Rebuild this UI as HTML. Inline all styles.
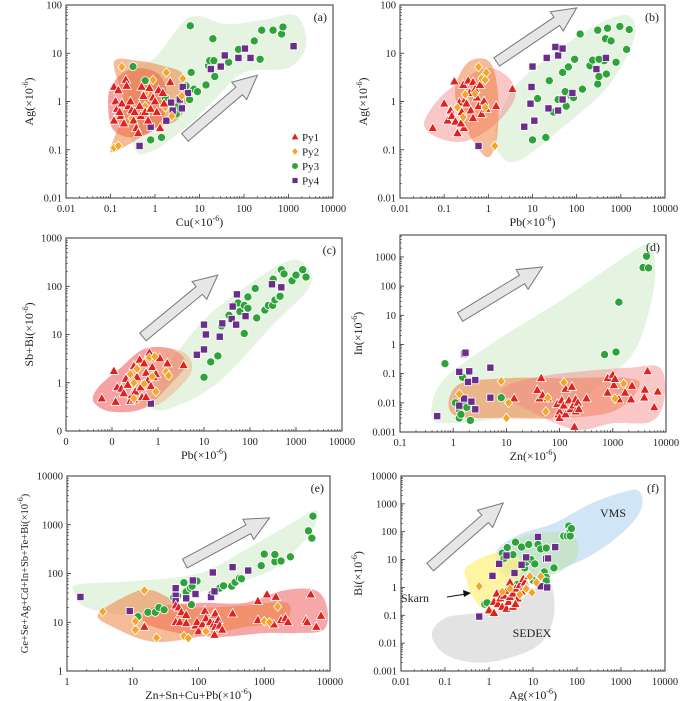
<!DOCTYPE html>
<html><head><meta charset="utf-8">
<style>
html,body{margin:0;padding:0;background:#fff;}
svg{display:block;}
svg text{font-family:"Liberation Serif","Times New Roman",serif;}
</style></head>
<body>
<svg id="chart" width="700" height="701" viewBox="0 0 700 701"></svg>
<script>
// ---------- Panel (a) Cu vs Ag ----------
const aPy1=[[0.12,2],[0.13,1],[0.12,0.4],[0.15,1.7],[0.14,0.7],[0.17,0.5],[0.18,0.9],[0.2,0.35],[0.22,2.8],[0.23,2.1],[0.25,0.8],[0.28,1],[0.3,0.65],[0.33,0.4],[0.38,0.28],[0.42,0.22],[0.45,0.8],[0.48,0.5],[0.5,2],[0.55,1.3],[0.6,0.6],[0.7,0.4],[0.75,1.9],[0.8,0.7],[0.9,1.2],[1,1],[1.1,0.6],[1.2,1.7],[1.3,0.28],[1.5,1.5],[1.6,0.9],[2.2,2.5],[0.35,0.6],[0.16,0.6]];
const aPy2=[[0.12,0.11],[0.15,0.12],[0.18,5.2],[0.3,0.45],[0.6,1.5],[0.6,0.8],[0.9,2.8],[1.8,4],[1.7,0.75],[2.4,0.5],[4.2,3],[4,1.3]];
const aPy3=[[0.32,5.3],[0.6,2.7],[0.8,0.16],[1.4,0.18],[1.7,1.2],[3,0.55],[3.3,0.8],[5,2.1],[6.2,37],[6,1.1],[6.5,4],[7.5,1.8],[9,1.6],[14,2.2],[16,5.5],[17,7],[20,20],[21,7],[22,3.3],[45,6.5],[75,12],[170,18],[230,7.5],[250,30],[450,30],[700,25],[750,35]];
const aPy4=[[0.45,0.12],[0.8,0.3],[2.3,0.95],[2.5,0.65],[1.8,0.4],[3.6,1.1],[4,0.72],[4.2,2],[5.5,1.5],[18,4.7],[30,5.3],[37,9],[75,8],[105,12.5],[140,8],[1300,14]];
// ---------- Panel (b) Pb vs Ag ----------
const bPy1=[[0.055,0.28],[0.1,0.9],[0.12,0.4],[0.14,0.65],[0.15,0.5],[0.17,2.6],[0.18,0.38],[0.2,0.22],[0.22,0.95],[0.25,0.6],[0.27,2.2],[0.28,0.28],[0.3,1.1],[0.32,0.9],[0.35,2.7],[0.38,1.5],[0.4,0.65],[0.45,2.5],[0.5,1.8],[0.55,1.2],[0.6,0.8],[0.65,2.2],[0.7,0.55],[0.8,1],[0.9,0.7],[1.5,0.8],[3.5,1.8],[0.24,0.35],[0.45,0.45]];
const bPy2=[[0.2,0.75],[0.27,0.47],[0.3,1.4],[0.5,1.45],[0.6,5.2],[0.7,3],[0.85,2.8],[0.9,4],[0.85,0.75],[1.4,0.12]];
const bPy3=[[10,0.16],[20,0.18],[13,1.15],[24,2.7],[30,0.6],[38,1.1],[48,4],[55,1.6],[58,0.8],[65,5.2],[75,1.3],[85,1.2],[90,7.5],[120,25],[135,1.8],[200,5.5],[230,7.2],[300,2.3],[300,30],[320,3.3],[420,7],[450,20],[470,3.7],[500,33],[600,18],[780,6.5],[950,36],[1350,12],[1550,31],[320,7.5]];
const bPy4=[[0.6,0.12],[6.5,0.3],[9,0.9],[9.5,2],[10,5.3],[11,0.4],[21,8],[23,0.72],[33,13.5],[38,9],[38,0.65],[48,12.5],[48,1.1],[80,1.5],[280,4.7],[460,8]];
// ---------- Panel (c) Pb vs Sb+Bi ----------
const cPy1=[[0.06,0.47],[0.11,1.75],[0.12,0.4],[0.13,0.8],[0.16,0.75],[0.18,0.6],[0.2,1.2],[0.22,0.9],[0.25,0.42],[0.27,0.55],[0.3,2.2],[0.32,0.65],[0.35,1.3],[0.4,3],[0.42,0.8],[0.45,0.5],[0.5,2.5],[0.55,1.6],[0.6,1.1],[0.65,4.2],[0.7,0.85],[0.75,2.1],[0.8,1.3],[0.9,1.5],[1.1,3.2],[1.6,2.5],[3.6,2.3],[0.3,0.45],[0.55,0.5]];
const cPy2=[[0.25,1.5],[0.3,1],[0.3,0.47],[0.35,1.95],[0.5,0.95],[0.65,3.3],[0.75,1.35],[0.85,3.5],[0.9,0.65],[1.5,1.7],[1.7,1.4]];
const cPy3=[[10,1.3],[14,2.7],[20,3.6],[24,15],[35,25],[45,40],[55,45],[60,30],[75,10.5],[75,40],[90,60],[90,35],[130,90],[140,22],[210,32],[250,40],[310,40],[320,140],[350,52],[430,60],[480,220],[550,180],[820,130],[1000,170],[1400,220],[1650,155],[450,62]];
const cPy4=[[0.7,0.37],[7,3.8],[10,4.9],[10,16],[11,10],[22,9],[25,17],[40,21],[42,38],[50,16],[52,68],[80,24],[300,110],[480,95]];
// ---------- Panel (d) Zn vs In ----------
const dPy1=[[14,0.014],[38,0.027],[42,0.014],[45,0.07],[48,0.018],[60,0.014],[90,0.009],[95,0.004],[100,0.005],[100,0.003],[110,0.012],[120,0.008],[130,0.004],[130,0.03],[150,0.012],[160,0.006],[170,0.035],[180,0.008],[190,0.0015],[200,0.013],[200,0.005],[220,0.01],[230,0.006],[320,0.014],[800,0.07],[800,0.022],[1000,0.09],[1050,0.04],[1100,0.065],[1300,0.013],[1700,0.022],[2200,0.013],[2300,0.038],[3900,0.015],[4000,0.028],[4500,0.12],[6000,0.007],[7000,0.024]];
const dPy2=[[1.3,0.02],[8,0.055],[10,0.003],[11,0.01],[60,0.015],[55,0.005],[120,0.05],[1100,0.014],[1600,0.045]];
const dPy3=[[0.7,0.22],[1.1,0.01],[1.3,0.006],[1.3,0.003],[1.4,0.004],[1.5,0.075],[1.6,0.009],[1.8,0.007],[2.1,0.0025],[8,0.015],[700,0.45],[1150,0.55],[1300,28],[3700,430],[4300,1050],[4700,420]];
const dPy4=[[0.5,0.0035],[1.3,0.115],[1.3,0.008],[1.6,0.47],[1.7,0.52],[1.6,0.014],[1.9,0.052],[2,0.12],[2.2,0.011],[2.6,0.06],[2.6,0.006],[5,0.16],[5,0.015]];
// ---------- Panel (e) Zn+Sn+Cu+Pb vs sum ----------
const ePy1=[[15,8],[45,10],[45,22],[50,20],[52,10],[55,16],[65,9.5],[65,14],[90,8.5],[95,10],[100,6.5],[115,9],[125,17],[130,12],[130,7],[150,10],[170,14],[170,9],[175,5.5],[180,8],[180,15],[200,11],[210,8.5],[230,7],[330,15],[800,11],[800,27],[1100,37],[1400,9],[1500,33],[1800,11],[2100,12],[2300,10],[4300,11],[4500,10],[5100,37],[6200,8],[7300,13.5]];
const ePy2=[[3.5,16.5],[11,7],[11,10.5],[15,45],[23,4.8],[60,5.2],[70,4.7],[130,6.5],[1000,10.5],[1200,10],[1600,21]];
const ePy3=[[12,13],[17,16],[22,16],[25,20],[30,18],[42,32],[48,35],[60,65],[65,42],[75,50],[78,23],[80,55],[95,70],[160,38],[210,50],[240,56],[320,55],[360,66],[420,80],[450,78],[900,145],[1000,250],[1450,175],[1450,245],[1800,180],[2500,220],[4700,750],[5300,530],[5500,1500]];
const ePy4=[[1.6,33],[9,17],[45,50],[45,35],[45,27],[65,31],[82,72],[90,38],[155,33],[165,105],[175,43],[330,135],[570,115]];
// ---------- Panel (f) Ag vs Bi ----------
const fPy1=[[1,0.15],[1.3,0.12],[1.3,0.3],[1.5,0.6],[1.6,0.25],[1.8,0.4],[2,0.2],[2.2,0.5],[2.5,0.17],[2.5,0.75],[2.8,0.3],[3,1.5],[3,0.45],[3.5,0.2],[3.5,0.6],[4,0.9],[4.5,0.4],[5,1.2],[5.5,0.7],[6,2],[6.5,1.5],[7,1],[8,2.5],[4,0.25]];
const fPy2=[[0.6,1.1],[2,0.7],[3,0.9],[5,0.55],[7,0.9],[8.5,2.5],[9.5,0.65],[15,2.5],[12,1.5]];
const fPy3=[[0.8,0.25],[0.9,0.28],[2,17],[2.2,11],[2.6,27],[3.5,15],[4,42],[4.5,1.3],[4,0.35],[5.5,28],[6,0.7],[6.5,5],[7,8],[8,35],[9,10],[10,1.8],[11,7],[13,35],[15,24],[18,3.6],[20,26],[20,2.3],[20,1.7],[30,5],[50,70],[60,70],[65,160],[70,110],[70,70],[75,130]];
const fPy4=[[0.6,0.09],[1.2,2.6],[1.7,7],[2.5,14],[3.8,3.3],[5.5,6.5],[7,12],[13,65],[15,1.1],[20,10.5],[21,1],[22,11],[32,28]];

const xTicksA=["0.01","0.1","1","10","100","1000","10000"];
const yTicksA=["0.01","0.1","1","10","100"];
const xTicksC=["0","0","1","10","100","1000","10000"];
const yTicksC=["0","1","10","100","1000"];
const xTicksD=["0.1","1","10","100","1000","10000"];
const yTicksD=["0.001","0.01","0.1","1","10","100","1000"];
const xTicksE=["1","10","100","1000","10000"];
const yTicksE=["1","10","100","1000","10000"];
const yTicksF=["0.001","0.01","0.1","1","10","100","1000","10000"];

const NS="http://www.w3.org/2000/svg";
const svg=document.getElementById('chart');
function el(tag,attrs,parent){const e=document.createElementNS(NS,tag);for(const k in attrs)e.setAttribute(k,attrs[k]);(parent||svg).appendChild(e);return e;}
const FF='"Liberation Serif","Times New Roman",serif';

function makePanel(p){
  const g=el('g',{});
  
  
  const sx=v=>p.x0+(Math.log10(v)-p.xmin)/(p.xmax-p.xmin)*(p.x1-p.x0);
  const sy=v=>p.y1-(Math.log10(v)-p.ymin)/(p.ymax-p.ymin)*(p.y1-p.y0);
  p.sx=sx;p.sy=sy;p.g=g;
  return p;
}
function smoothPath(pts){
  const n=pts.length;let d='M'+pts[0][0]+','+pts[0][1];
  for(let i=0;i<n;i++){
    const p0=pts[(i-1+n)%n],p1=pts[i],p2=pts[(i+1)%n],p3=pts[(i+2)%n];
    const c1=[p1[0]+(p2[0]-p0[0])/6,p1[1]+(p2[1]-p0[1])/6];
    const c2=[p2[0]-(p3[0]-p1[0])/6,p2[1]-(p3[1]-p1[1])/6];
    d+=' C'+c1[0].toFixed(1)+','+c1[1].toFixed(1)+' '+c2[0].toFixed(1)+','+c2[1].toFixed(1)+' '+p2[0].toFixed(1)+','+p2[1].toFixed(1);
  }
  return d+'Z';
}
function envelope(p,poly,fill,name){
  const pts=poly.map(q=>[p.sx(q[0]),p.sy(q[1])]);
  const e=el('path',{d:smoothPath(pts),fill:fill},p.g);
  
  
}
function arrow(p,t,h){
  const x1=p.sx(t[0]),y1=p.sy(t[1]),x2=p.sx(h[0]),y2=p.sy(h[1]);
  const L=Math.hypot(x2-x1,y2-y1),a=Math.atan2(y2-y1,x2-x1);
  const sw=5,hw=11.5,hl=24;
  const loc=[[0,-sw],[L-hl,-sw],[L-hl,-hw],[L,0],[L-hl,hw],[L-hl,sw],[0,sw]];
  const pts=loc.map(q=>[(x1+q[0]*Math.cos(a)-q[1]*Math.sin(a)).toFixed(1),(y1+q[0]*Math.sin(a)+q[1]*Math.cos(a)).toFixed(1)].join(',')).join(' ');
  const e=el('polygon',{points:pts,fill:'#e6e6e6',stroke:'#777','stroke-width':1},p.g);
  
  
}
const COL={Py1:'#e4201c',Py2:'#f5a623',Py3:'#2ea33a',Py4:'#6b2d8b'};
function marker(g,type,x,y,s){
  let e;
  if(type==='Py1')e=el('polygon',{points:`${x},${y-s*1.1} ${x+s},${y+s*0.7} ${x-s},${y+s*0.7}`,fill:COL.Py1,stroke:'#fff','stroke-width':0.8},g);
  else if(type==='Py2')e=el('polygon',{points:`${x},${y-s} ${x+s*0.85},${y} ${x},${y+s} ${x-s*0.85},${y}`,fill:COL.Py2,stroke:'#fff','stroke-width':0.8},g);
  else if(type==='Py3')e=el('circle',{cx:x,cy:y,r:s*0.85,fill:COL.Py3,stroke:'#fff','stroke-width':0.8},g);
  else e=el('rect',{x:x-s*0.75,y:y-s*0.75,width:s*1.5,height:s*1.5,fill:COL.Py4,stroke:'#fff','stroke-width':0.8},g);
  return e;
}
function series(p,data,type){
  const sg=el('g',{},p.g);
  
  
  data.forEach(d=>{
    const m=marker(sg,type,p.sx(d[0]),p.sy(d[1]),4.8);
    
    
  });
}
function axes(p,xl,yl,xlab,ylab,tag){
  const g=p.g;
  const fr=el('rect',{x:p.x0,y:p.y0,width:p.x1-p.x0,height:p.y1-p.y0,fill:'none',stroke:'#333','stroke-width':1},g);
  
  
  for(let k=p.xmin;k<=p.xmax;k++){
    const x=p.sx(Math.pow(10,k));
    el('line',{x1:x,y1:p.y1,x2:x,y2:p.y1-4,stroke:'#333','stroke-width':0.8},g);
    if(k<p.xmax)for(let m=2;m<10;m++){const xm=p.sx(m*Math.pow(10,k));el('line',{x1:xm,y1:p.y1,x2:xm,y2:p.y1-2,stroke:'#333','stroke-width':0.6},g);}
    const t=el('text',{x:x,y:p.y1+14,'text-anchor':'middle','font-size':10.5,fill:'#222','font-family':FF},g);
    t.textContent=xl[k-p.xmin];
    
    
  }
  for(let k=p.ymin;k<=Math.floor(p.ymax);k++){
    const y=p.sy(Math.pow(10,k));
    el('line',{x1:p.x0,y1:y,x2:p.x0+4,y2:y,stroke:'#333','stroke-width':0.8},g);
    for(let m=2;m<10;m++){const v=m*Math.pow(10,k);if(Math.log10(v)>p.ymax)break;const ym=p.sy(v);el('line',{x1:p.x0,y1:ym,x2:p.x0+2,y2:ym,stroke:'#333','stroke-width':0.6},g);}
    const t=el('text',{x:p.x0-4,y:y+3.5,'text-anchor':'end','font-size':10.5,fill:'#222','font-family':FF},g);
    t.textContent=yl[k-p.ymin];
    
    
  }
  const xt=el('text',{x:(p.x0+p.x1)/2,y:p.y1+28,'text-anchor':'middle','font-size':12,fill:'#222','font-family':FF},g);
  xt.innerHTML=xlab+'(×10<tspan dy="-5" font-size="8">-6</tspan><tspan dy="5">)</tspan>';
  
  
  const cy=(p.y0+p.y1)/2, cx=p.ylx;
  const yt=el('text',{x:cx,y:cy,'text-anchor':'middle','font-size':p.yfs||12,fill:'#222','font-family':FF,transform:`rotate(-90 ${cx} ${cy})`},g);
  yt.innerHTML=ylab+'(×10<tspan dy="-5" font-size="8">-6</tspan><tspan dy="5">)</tspan>';
  
  
  const pl=el('text',{x:p.x1-6,y:p.y0+16,'text-anchor':'end','font-size':12,fill:'#222','font-family':FF},g);
  pl.textContent=tag;
  
  
}
const RED='rgba(238,70,70,0.5)',PINK='rgba(244,130,130,0.45)',ORG='rgba(238,120,50,0.5)',GRN='rgba(190,225,180,0.4)';

// Panel a
let A=makePanel({id:'a',x0:66,x1:333,y0:5,y1:198,xmin:-2,xmax:4,ymin:-2,ymax:2,ylx:33});
envelope(A,[[0.35,0.1],[1,0.1],[5,0.3],[20,1],[100,4],[1000,5],[2500,15],[1500,60],[300,50],[40,40],[6,55],[1,8],[0.3,5],[0.25,1]],GRN,'py3-envelope');
envelope(A,[[0.09,0.6],[0.12,0.25],[0.3,0.18],[0.9,0.25],[1.8,0.7],[1.6,2.5],[0.8,4.5],[0.25,4.5],[0.1,2]],RED,'py1-envelope');
envelope(A,[[0.1,0.09],[0.3,0.14],[1,0.28],[3,0.4],[5,0.9],[4.5,3.5],[1.5,5.5],[0.4,7],[0.12,6.5],[0.2,1],[0.15,0.3]],ORG,'py2-envelope');
arrow(A,[4.7,0.18],[200,3.5]);
series(A,aPy3,'Py3');series(A,aPy4,'Py4');series(A,aPy2,'Py2');series(A,aPy1,'Py1');
axes(A,xTicksA,yTicksA,'Cu','Ag','(a)');
const leg=el('g',{},A.g);


['Py1','Py2','Py3','Py4'].forEach((s,i)=>{
  const y=137+i*14.5;
  const m=marker(leg,s,295,y,4);
  
  
  const t=el('text',{x:302,y:y+4,'font-size':11,fill:'#222','font-family':FF},leg);
  t.textContent=s;
  
  
});

// Panel b
let B=makePanel({id:'b',x0:400,x1:665,y0:5,y1:198,xmin:-2,xmax:4,ymin:-2,ymax:2,ylx:367});
envelope(B,[[1.8,0.08],[5,0.06],[50,0.3],[500,2],[2000,20],[1500,60],[300,40],[30,10],[4,2],[1.5,0.3]],GRN,'py3-envelope');
envelope(B,[[0.035,0.35],[0.07,0.18],[0.3,0.15],[1.5,0.35],[4,1.2],[3,3],[1,5],[0.3,3],[0.08,1.2]],PINK,'py1-envelope');
envelope(B,[[0.18,2],[0.35,6.5],[1,7],[1.6,2],[1.6,0.2],[1,0.07],[0.45,0.15],[0.22,0.6]],ORG,'py2-envelope');
arrow(B,[1.55,6.6],[100,87]);
series(B,bPy3,'Py3');series(B,bPy4,'Py4');series(B,bPy1,'Py1');series(B,bPy2,'Py2');
axes(B,xTicksA,yTicksA,'Pb','Ag','(b)');

// Panel c
let C=makePanel({id:'c',x0:66,x1:342,y0:238,y1:431,xmin:-2,xmax:4,ymin:-1,ymax:3,ylx:33});
envelope(C,[[0.7,0.3],[2,0.3],[20,1],[300,15],[2000,100],[1500,300],[500,300],[50,70],[10,20],[2,3],[0.8,0.6]],GRN,'py3-envelope');
envelope(C,[[0.04,0.4],[0.1,0.25],[0.5,0.3],[2,1],[4,2.5],[2,5],[0.5,5],[0.15,2],[0.05,0.8]],RED,'py1-envelope');
envelope(C,[[0.3,0.4],[1,0.35],[5,1.5],[4,4],[1,5],[0.3,2]],'rgba(240,170,120,0.45)','py2-envelope');
arrow(C,[0.47,8.9],[20,170]);
series(C,cPy3,'Py3');series(C,cPy4,'Py4');series(C,cPy1,'Py1');series(C,cPy2,'Py2');
axes(C,xTicksC,yTicksC,'Pb','Sb+Bi','(c)');

// Panel d
let D=makePanel({id:'d',x0:400,x1:666,y0:235,y1:432,xmin:-1,xmax:4,ymin:-3,ymax:3.75,ylx:362});
envelope(D,[[0.4,0.003],[1,0.002],[10,0.003],[100,0.005],[1000,0.1],[3000,1],[6000,100],[5500,2000],[3000,2000],[100,30],[5,1],[0.6,0.05]],GRN,'py3-envelope');
envelope(D,[[1,0.004],[10,0.003],[100,0.003],[1000,0.005],[3000,0.03],[2000,0.07],[100,0.07],[10,0.07],[1.2,0.04]],ORG,'py2-envelope');
envelope(D,[[8,0.02],[30,0.005],[200,0.0012],[1000,0.002],[5000,0.0022],[9000,0.01],[8000,0.15],[2000,0.16],[100,0.1],[15,0.05]],PINK,'py1-envelope');
arrow(D,[1.35,8.7],[48,450]);
series(D,dPy3,'Py3');series(D,dPy4,'Py4');series(D,dPy1,'Py1');series(D,dPy2,'Py2');
axes(D,xTicksD,yTicksD,'Zn','In','(d)');

// Panel e
let E=makePanel({id:'e',x0:67,x1:330,y0:476,y1:671,xmin:0,xmax:4,ymin:0,ymax:4,ylx:28,yfs:10.5});
envelope(E,[[1.3,40],[2,20],[10,15],[100,40],[1000,100],[3000,300],[6000,1000],[6000,2000],[3000,1200],[500,300],[100,100],[10,70],[1.5,60]],GRN,'py3-envelope');
envelope(E,[[15,10],[50,6],[200,5],[1000,6],[3000,6],[8000,7],[9000,20],[6000,45],[2000,45],[500,25],[100,25],[20,20]],'rgba(238,80,80,0.5)','py1-envelope');
envelope(E,[[3,15],[5,8],[20,4],[100,5],[500,8],[2000,10],[2200,25],[500,22],[100,20],[50,25],[20,45],[10,40]],ORG,'py2-envelope');
arrow(E,[62,160],[1200,1380]);
series(E,ePy3,'Py3');series(E,ePy4,'Py4');series(E,ePy1,'Py1');series(E,ePy2,'Py2');
axes(E,xTicksE,yTicksE,'Zn+Sn+Cu+Pb','Ge+Se+Ag+Cd+In+Sb+Te+Bi','(e)');

// Panel f
let F=makePanel({id:'f',x0:401,x1:665,y0:476,y1:671,xmin:-2,xmax:4,ymin:-3,ymax:4,ylx:362});
envelope(F,[[0.05,0.02],[0.1,0.004],[0.5,0.002],[3,0.003],[15,0.01],[30,0.1],[25,1.5],[12,1],[3,0.2],[0.5,0.12],[0.1,0.08]],'rgba(200,200,200,0.5)','sedex-field');
envelope(F,[[1.5,20],[2,3],[8,2],[50,5],[300,20],[1500,150],[3000,800],[2500,3000],[1000,2500],[200,1000],[30,200],[5,80]],'rgba(150,200,235,0.45)','vms-field');
envelope(F,[[1.8,10],[5,2],[30,3],[100,12],[90,60],[30,100],[5,60]],'rgba(190,225,170,0.55)','py3-field');
envelope(F,[[0.3,2],[0.5,0.3],[1,0.15],[3,0.3],[5,1.5],[5,10],[2,18],[0.7,12],[0.3,5]],'rgba(255,240,120,0.7)','skarn-field');
arrow(F,[0.046,5.4],[2.1,1070]);
series(F,fPy3,'Py3');series(F,fPy4,'Py4');series(F,fPy1,'Py1');series(F,fPy2,'Py2');
axes(F,xTicksA,yTicksF,'Ag','Bi','(f)');
[['VMS',613,517,'vms-label'],['SEDEX',532,637,'sedex-label'],['Skarn',415,602,'skarn-label']].forEach(l=>{
  const t=el('text',{x:l[1],y:l[2],'text-anchor':'middle','font-size':12,fill:'#222','font-family':FF},F.g);
  t.textContent=l[0];
  
  
});
const sa=el('g',{},F.g);


el('line',{x1:447,y1:597,x2:466,y2:594,stroke:'#111','stroke-width':1},sa);
el('polygon',{points:'471,593 463,590 464,597',fill:'#111'},sa);
</script>
</body></html>
